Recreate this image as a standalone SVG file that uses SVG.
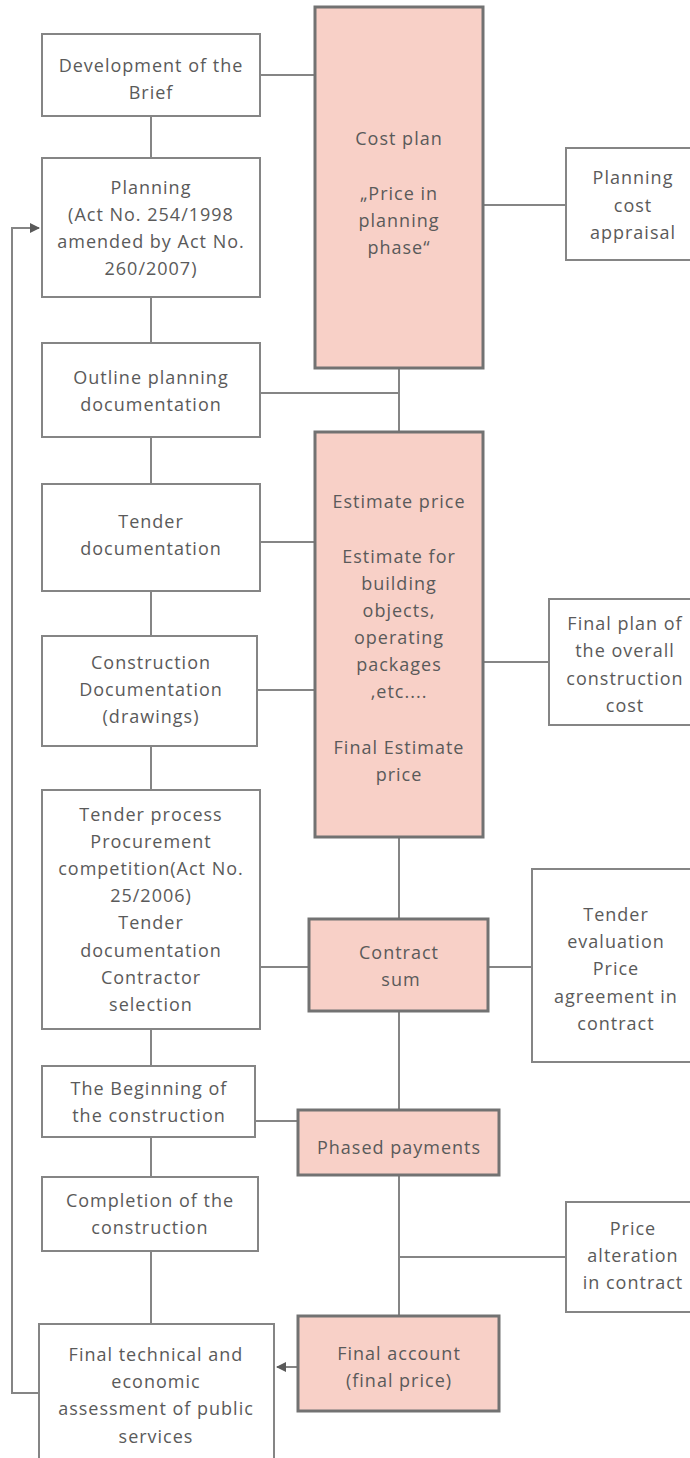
<svg xmlns="http://www.w3.org/2000/svg" width="690" height="1458" viewBox="0 0 690 1458">
<style>
.b{fill:#fff;stroke:#858585;stroke-width:2}
.p{fill:#f8d0c7;stroke:#727272;stroke-width:3}
.c{fill:none;stroke:#858585;stroke-width:2}
text{font-family:"Open Sans","Noto Sans",sans-serif;font-size:18px;fill:#5a5a5a;text-anchor:middle;letter-spacing:1px}
</style>
<defs>
<marker id="ar" markerWidth="10" markerHeight="10" refX="9" refY="5" orient="auto" markerUnits="userSpaceOnUse">
<path d="M0,0 L10,5 L0,10 z" fill="#5a5a5a"/>
</marker>
</defs>
<g id="connectors">
<line class="c" x1="260" y1="75" x2="315" y2="75"/>
<line class="c" x1="483" y1="205" x2="566" y2="205"/>
<line class="c" x1="151" y1="116" x2="151" y2="158"/>
<line class="c" x1="151" y1="297" x2="151" y2="343"/>
<line class="c" x1="151" y1="437" x2="151" y2="484"/>
<line class="c" x1="151" y1="591" x2="151" y2="636"/>
<line class="c" x1="151" y1="746" x2="151" y2="790"/>
<line class="c" x1="151" y1="1029" x2="151" y2="1066"/>
<line class="c" x1="151" y1="1137" x2="151" y2="1177"/>
<line class="c" x1="151" y1="1251" x2="151" y2="1324"/>
<line class="c" x1="399" y1="368" x2="399" y2="432"/>
<line class="c" x1="260" y1="393" x2="399" y2="393"/>
<line class="c" x1="260" y1="542" x2="315" y2="542"/>
<line class="c" x1="257" y1="690" x2="315" y2="690"/>
<line class="c" x1="483" y1="662" x2="549" y2="662"/>
<line class="c" x1="399" y1="837" x2="399" y2="919"/>
<line class="c" x1="260" y1="967" x2="309" y2="967"/>
<line class="c" x1="488" y1="967" x2="532" y2="967"/>
<line class="c" x1="399" y1="1011" x2="399" y2="1110"/>
<line class="c" x1="255" y1="1121" x2="298" y2="1121"/>
<line class="c" x1="399" y1="1175" x2="399" y2="1316"/>
<line class="c" x1="399" y1="1257" x2="566" y2="1257"/>
<line class="c" x1="298" y1="1367" x2="277" y2="1367" marker-end="url(#ar)"/>
<polyline class="c" points="39,1393 12,1393 12,228 39,228" marker-end="url(#ar)"/>
</g>
<g id="n-brief"><rect class="b" x="42" y="34" width="218" height="82"/>
<text x="151" y="72">Development of the</text><text x="151" y="99">Brief</text></g>
<g id="n-planning"><rect class="b" x="42" y="158" width="218" height="139"/>
<text x="151" y="194">Planning</text><text x="151" y="221">(Act No. 254/1998</text><text x="151" y="248">amended by Act No.</text><text x="151" y="275">260/2007)</text></g>
<g id="n-outline"><rect class="b" x="42" y="343" width="218" height="94"/>
<text x="151" y="384">Outline planning</text><text x="151" y="411">documentation</text></g>
<g id="n-tenderdoc"><rect class="b" x="42" y="484" width="218" height="107"/>
<text x="151" y="528">Tender</text><text x="151" y="555">documentation</text></g>
<g id="n-constrdoc"><rect class="b" x="42" y="636" width="215" height="110"/>
<text x="151" y="669">Construction</text><text x="151" y="696">Documentation</text><text x="151" y="723">(drawings)</text></g>
<g id="n-tenderproc"><rect class="b" x="42" y="790" width="218" height="239"/>
<text x="151" y="821">Tender process</text><text x="151" y="848">Procurement</text><text x="151" y="875">competition(Act No.</text><text x="151" y="902">25/2006)</text><text x="151" y="929">Tender</text><text x="151" y="957">documentation</text><text x="151" y="984">Contractor</text><text x="151" y="1011">selection</text></g>
<g id="n-beginning"><rect class="b" x="42" y="1066" width="213" height="71"/>
<text x="149" y="1095">The Beginning of</text><text x="149" y="1122">the construction</text></g>
<g id="n-completion"><rect class="b" x="42" y="1177" width="216" height="74"/>
<text x="150" y="1207">Completion of the</text><text x="150" y="1234">construction</text></g>
<g id="n-finaltech"><rect class="b" x="39" y="1324" width="235" height="140"/>
<text x="156" y="1361">Final technical and</text><text x="156" y="1388">economic</text><text x="156" y="1415">assessment of public</text><text x="156" y="1443">services</text></g>
<g id="n-costplan"><rect class="p" x="315" y="7" width="168" height="361"/>
<text x="399" y="145">Cost plan</text><text x="399" y="200">„Price in</text><text x="399" y="227">planning</text><text x="399" y="254">phase“</text></g>
<g id="n-estimate"><rect class="p" x="315" y="432" width="168" height="405"/>
<text x="399" y="508">Estimate price</text><text x="399" y="563">Estimate for</text><text x="399" y="590">building</text><text x="399" y="617">objects,</text><text x="399" y="644">operating</text><text x="399" y="671">packages</text><text x="399" y="698">,etc....</text><text x="399" y="754">Final Estimate</text><text x="399" y="781">price</text></g>
<g id="n-contract"><rect class="p" x="309" y="919" width="179" height="92"/>
<text x="399" y="959">Contract</text><text x="401" y="986">sum</text></g>
<g id="n-phased"><rect class="p" x="298" y="1110" width="201" height="65"/>
<text x="399" y="1154">Phased payments</text></g>
<g id="n-finalaccount"><rect class="p" x="298" y="1316" width="201" height="95"/>
<text x="399" y="1360">Final account</text><text x="399" y="1387">(final price)</text></g>
<g id="n-appraisal"><rect class="b" x="566" y="148" width="130" height="112"/>
<text x="633" y="184">Planning</text><text x="633" y="212">cost</text><text x="633" y="239">appraisal</text></g>
<g id="n-finalplan"><rect class="b" x="549" y="599" width="147" height="126"/>
<text x="625" y="630">Final plan of</text><text x="625" y="657">the overall</text><text x="625" y="685">construction</text><text x="625" y="712">cost</text></g>
<g id="n-tendereval"><rect class="b" x="532" y="869" width="164" height="193"/>
<text x="616" y="921">Tender</text><text x="616" y="948">evaluation</text><text x="616" y="975">Price</text><text x="616" y="1003">agreement in</text><text x="616" y="1030">contract</text></g>
<g id="n-alteration"><rect class="b" x="566" y="1202" width="130" height="110"/>
<text x="633" y="1235">Price</text><text x="633" y="1262">alteration</text><text x="633" y="1289">in contract</text></g>
</svg>
